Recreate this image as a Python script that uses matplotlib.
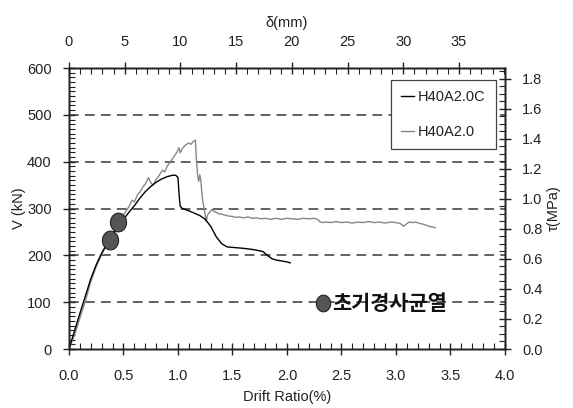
import matplotlib
matplotlib.use("Agg")
import matplotlib.pyplot as plt
from matplotlib.ticker import MultipleLocator
from matplotlib.path import Path
import numpy as np

plt.rcParams['font.family'] = ['Liberation Sans', 'Noto Sans CJK KR', 'DejaVu Sans']
plt.rcParams['lines.scale_dashes'] = False

# H40A2.0C : drift ratio (%) vs shear force (kN)
drift_c = [0.00, 0.05, 0.10, 0.15, 0.20, 0.25, 0.30, 0.35, 0.40, 0.45, 0.50, 0.55,
           0.60, 0.65, 0.70, 0.75, 0.80, 0.85, 0.90, 0.95, 0.98, 1.00, 1.01, 1.02,
           1.04, 1.10, 1.15, 1.20, 1.25, 1.30, 1.35, 1.40, 1.45, 1.50, 1.60, 1.70,
           1.78, 1.82, 1.86, 1.90, 2.00, 2.03]
shear_c = [0, 38, 76, 113, 150, 180, 205, 225, 244, 262, 277, 292,
           306, 322, 336, 347, 356, 363, 368, 371, 371, 366, 330, 305,
           300, 295, 290, 285, 277, 262, 240, 225, 218, 217, 215, 212,
           208, 200, 193, 190, 186, 184]

# H40A2.0 : drift ratio (%) vs shear force (kN)
drift_g = [0.00, 0.05, 0.10, 0.15, 0.20, 0.25, 0.30, 0.35, 0.40, 0.45, 0.50, 0.55,
           0.58, 0.60, 0.63, 0.65, 0.68, 0.70, 0.73, 0.75, 0.77, 0.80, 0.82, 0.84,
           0.86, 0.88, 0.90, 0.93, 0.96, 0.99, 1.01, 1.02, 1.04, 1.07, 1.10, 1.12,
           1.14, 1.16, 1.165, 1.17, 1.18, 1.19, 1.20, 1.21, 1.22, 1.23, 1.24, 1.25,
           1.26, 1.27, 1.29, 1.31, 1.33, 1.35, 1.37, 1.40, 1.43, 1.46, 1.50, 1.53,
           1.56, 1.60, 1.64, 1.68, 1.72, 1.76, 1.80, 1.85, 1.90, 1.95, 2.00, 2.05,
           2.10, 2.15, 2.20, 2.25, 2.28, 2.30, 2.32, 2.36, 2.40, 2.45, 2.50, 2.55,
           2.60, 2.65, 2.70, 2.75, 2.80, 2.85, 2.90, 2.95, 3.00, 3.04, 3.07, 3.09,
           3.12, 3.15, 3.18, 3.22, 3.26, 3.30, 3.33, 3.36]
shear_g = [0, 30, 66, 102, 144, 176, 202, 224, 246, 266, 286, 304,
           318, 314, 330, 335, 347, 352, 366, 355, 350, 362, 368, 376,
           382, 378, 390, 400, 410, 420, 430, 419, 428, 436, 440, 437,
           443, 446, 420, 400, 372, 358, 372, 360, 330, 312, 300, 285,
           272, 286, 292, 298, 294, 292, 289, 288, 286, 284, 283, 281,
           282, 280, 282, 279, 280, 278, 279, 277, 279, 277, 279, 278,
           277, 279, 278, 279, 277, 272, 270, 271, 270, 272, 270, 271,
           269, 271, 270, 272, 270, 271, 269, 271, 270, 268, 262, 266,
           271, 270, 271, 268, 266, 262, 261, 259]

# initial diagonal cracking points
crack_drift = [0.38, 0.45]
crack_shear = [232, 272]

x_ticks = [0.0, 0.5, 1.0, 1.5, 2.0, 2.5, 3.0, 3.5, 4.0]
y_ticks = [0, 100, 200, 300, 400, 500, 600]
tau_ticks = [0.0, 0.2, 0.4, 0.6, 0.8, 1.0, 1.2, 1.4, 1.6, 1.8]
mm_ticks = [0, 5, 10, 15, 20, 25, 30, 35]
grid_levels = [100, 200, 300, 400, 500]

MM_PER_PERCENT = 9.78
TAU_TOP = 1.87
INK = '#222222'

# slightly upright oval marker
_t = np.linspace(0, 2 * np.pi, 60)
oval = Path(np.column_stack([0.43 * np.cos(_t), 0.5 * np.sin(_t)]))

fig = plt.figure(figsize=(5.73, 4.08), dpi=100)
ax = fig.add_axes([0.1204, 0.1446, 0.7609, 0.6887])

for lv in grid_levels:
    ax.axhline(lv, color='#555555', lw=1.3, linestyle=(0, (7, 4.5)), zorder=1)

ax.plot(drift_c, shear_c, color='black', lw=1.0, label='H40A2.0C', zorder=3)
ax.plot(drift_g, shear_g, color='#888888', lw=1.0, label='H40A2.0', zorder=2)
ax.plot(crack_drift, crack_shear, linestyle='none', marker=oval, markersize=13.5,
        markerfacecolor='#555555', markeredgecolor=INK, markeredgewidth=0.8,
        zorder=4)

ax.set_xlim(0, 4.0)
ax.set_ylim(0, 600)
ax.set_xticks(x_ticks)
ax.set_xticklabels([f'{v:.1f}' for v in x_ticks])
ax.set_yticks(y_ticks)
ax.xaxis.set_minor_locator(MultipleLocator(0.1))
ax.yaxis.set_minor_locator(MultipleLocator(10))
ax.tick_params(which='major', direction='inout', length=9, width=1, labelsize=10.5,
               colors=INK, labelcolor=INK, right=False, top=False)
ax.tick_params(axis='x', which='major', pad=10)
ax.tick_params(axis='y', which='major', pad=8)
ax.tick_params(which='minor', direction='in', length=4, width=0.8, colors=INK,
               right=False, top=False)
ax.set_xlabel('Drift Ratio(%)', fontsize=10.5, color=INK, labelpad=5)
ax.set_ylabel('V (kN)', fontsize=10.5, color=INK, labelpad=1)

# shear stress axis on the right
axr = ax.twinx()
axr.set_ylim(0, TAU_TOP)
axr.set_yticks(tau_ticks)
axr.set_yticklabels([f'{v:.1f}' for v in tau_ticks])
axr.yaxis.set_minor_locator(MultipleLocator(0.05))
axr.tick_params(which='major', direction='inout', length=9, width=1, labelsize=10.5,
                colors=INK, labelcolor=INK, pad=8)
axr.tick_params(which='minor', direction='in', length=4, width=0.8, colors=INK)
axr.set_ylabel('τ(MPa)', fontsize=10.5, color=INK, labelpad=3,
               family=['Liberation Sans', 'DejaVu Sans'])

# displacement axis on top
axt = ax.twiny()
axt.set_xlim(0, 4.0 * MM_PER_PERCENT)
axt.set_xticks(mm_ticks)
axt.xaxis.set_minor_locator(MultipleLocator(1))
axt.tick_params(which='major', direction='inout', length=9, width=1, labelsize=10.5,
                colors=INK, labelcolor=INK, pad=9)
axt.tick_params(which='minor', direction='in', length=4, width=0.8, colors=INK)
axt.set_xlabel('δ(mm)', fontsize=10.5, color=INK, labelpad=6,
               family=['Liberation Sans', 'DejaVu Sans'])

for a in (ax, axr, axt):
    for s in a.spines.values():
        s.set_linewidth(1.0)
        s.set_color(INK)

leg = ax.legend(loc='upper right', bbox_to_anchor=(0.979, 0.957), fontsize=10.5,
                handlelength=0.9, handletextpad=0.25, labelspacing=1.4,
                borderpad=0.7, borderaxespad=0, fancybox=False, framealpha=1,
                edgecolor='#444444')
leg.get_frame().set_linewidth(0.9)
for t in leg.get_texts():
    t.set_color(INK)

# annotation for initial diagonal cracking
ax.plot([2.33], [98], linestyle='none', marker=oval, markersize=12,
        markerfacecolor='#555555', markeredgecolor=INK, markeredgewidth=0.8,
        zorder=4)
ax.text(2.41, 98, '초기경사균열', fontsize=15, fontweight='bold', va='center',
        ha='left', color='#111111', family=['Noto Sans CJK KR', 'DejaVu Sans'],
        zorder=4)

fig.savefig('out.png', dpi=100)
